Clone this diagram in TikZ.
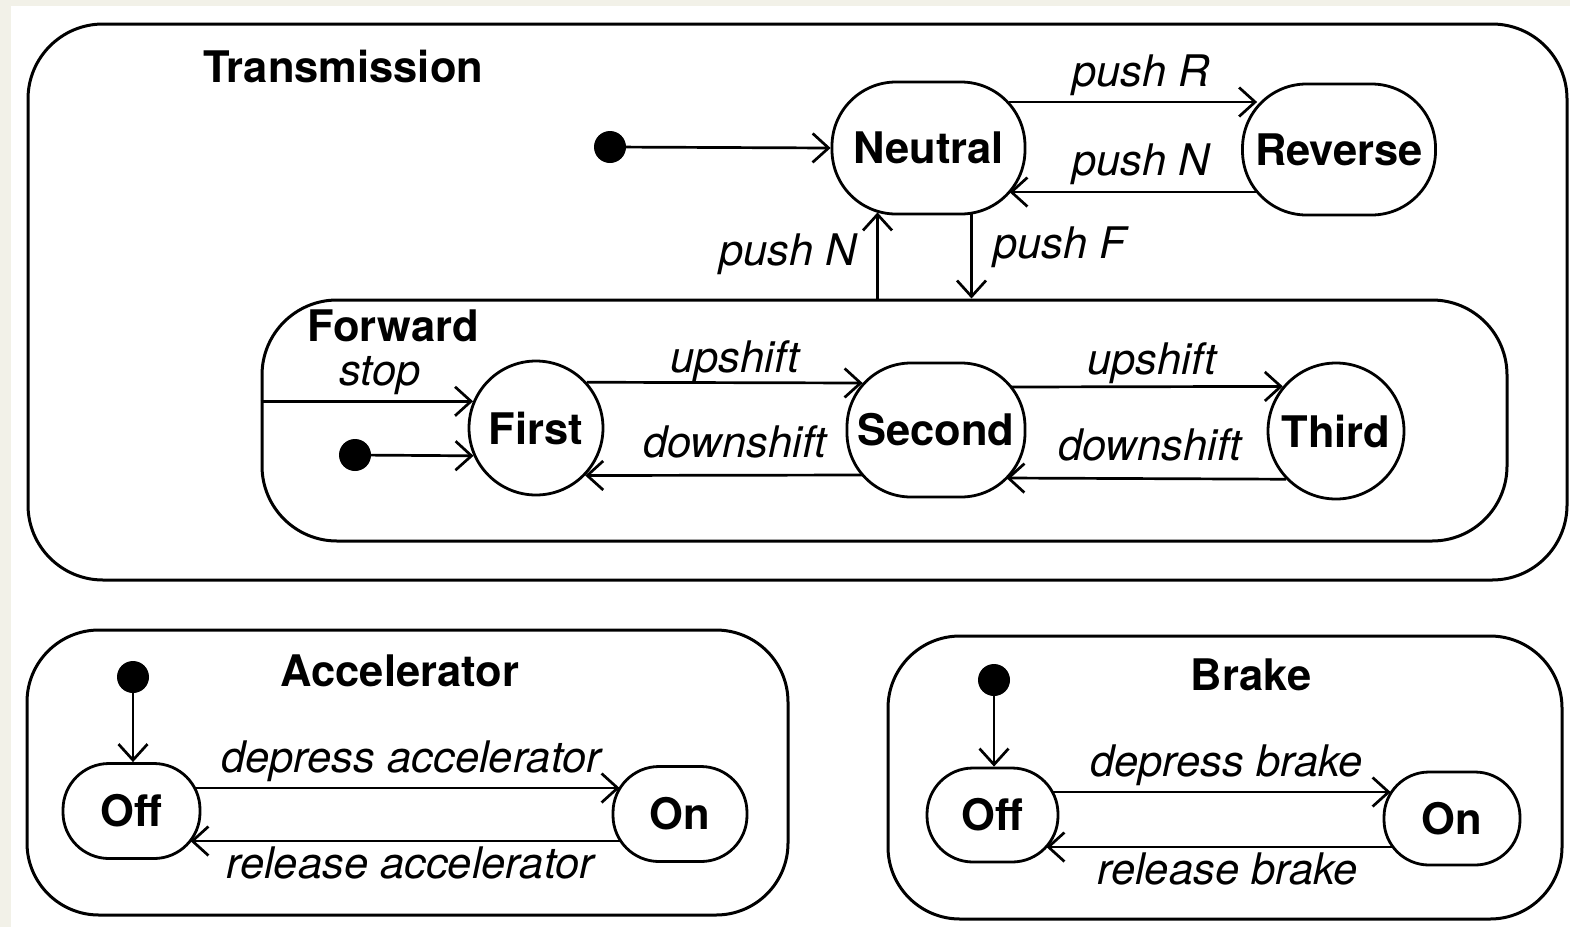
\documentclass[tikz,border=0pt]{standalone}
\usepackage{fontspec}
\setmainfont{TeX Gyre Heros}
\usetikzlibrary{arrows.meta}
\definecolor{bgbeige}{HTML}{F2F1E8}
\newcommand\bfsz{\fontsize{43.5}{50}\selectfont\bfseries}
\newcommand\itsz{\fontsize{43.5}{50}\selectfont\itshape}
\begin{document}
\begin{tikzpicture}[x=1pt,y=-1pt,
  box/.style={draw, line width=3pt, rounded corners=75pt, inner sep=0pt},
  state/.style={draw, line width=2.8pt, inner sep=0pt, font=\bfsz},
  cstate/.style={draw, circle, line width=2.8pt, inner sep=0pt, font=\bfsz},
  initdot/.style={circle, fill=black, minimum size=32pt, inner sep=0pt},
  arr/.style={line width=2.7pt, -{Straight Barb[length=16pt,width=29pt,line width=2.7pt]}},
  lbl/.style={font=\itsz, inner sep=0pt},
  title/.style={font=\bfsz, inner sep=0pt}]
\fill[bgbeige] (0,0) rectangle (1570,927);
\fill[white] (11,6) rectangle (1570,927);
\useasboundingbox (0,0) rectangle (1570,927);

% composite boxes
\node[box, minimum width=1539pt, minimum height=556pt] (trans) at (797.5,302) {};
\node[box, minimum width=1245pt, minimum height=241pt] (forward) at (884.5,420.5) {};
\node[box, rounded corners=72pt, minimum width=761pt, minimum height=285pt] (accel) at (407.5,772.5) {};
\node[box, rounded corners=72pt, minimum width=674pt, minimum height=283pt] (brake) at (1225,777.5) {};

% titles
\node[title, anchor=base west] (ttrans) at (203,82) {Transmission};
\node[title, anchor=base west] (tfwd) at (307,341) {Forward};
\node[title, anchor=base] (tacc) at (400,686) {Accelerator};
\node[title, anchor=base] (tbrk) at (1251,690) {Brake};

% states
\node[state, minimum width=193pt, minimum height=132pt, rounded corners=64pt] (neutral) at (928.5,148) {Neutral};
\node[state, minimum width=193pt, minimum height=131pt, rounded corners=64pt] (reverse) at (1339,149.5) {Reverse};
\node[cstate, minimum size=134pt] (first) at (536,428) {First};
\node[state, minimum width=178pt, minimum height=134pt, rounded corners=64pt] (second) at (936,430) {Second};
\node[cstate, minimum size=136pt] (third) at (1336,431) {Third};
\node[state, minimum width=137pt, minimum height=95pt, rounded corners=46pt] (aoff) at (131.5,811) {Off};
\node[state, minimum width=134pt, minimum height=95pt, rounded corners=46pt] (aon) at (680,814) {On};
\node[state, minimum width=131pt, minimum height=94pt, rounded corners=46pt] (boff) at (992.5,815) {Off};
\node[state, minimum width=136pt, minimum height=93pt, rounded corners=45pt] (bon) at (1452,818.5) {On};

% initial dots
\node[initdot] (i0) at (610,147) {};
\node[initdot] (i1) at (355,455) {};
\node[initdot] (i2) at (133,677) {};
\node[initdot] (i3) at (994,680) {};

% transmission transitions
\draw[arr] (i0) -- (neutral.west);
\draw[arr] ([xshift=-17pt,yshift=46pt]neutral.east) -- ([xshift=16pt,yshift=47.5pt]reverse.west);
\draw[arr] ([xshift=16pt,yshift=-42.5pt]reverse.west) -- ([xshift=-17pt,yshift=-44pt]neutral.east);
\draw[arr] ([xshift=43pt,yshift=2pt]neutral.south) -- ([xshift=43pt]neutral.south |- forward.north);
\draw[arr] ([xshift=-51pt]neutral.south |- forward.north) -- ([xshift=-51pt,yshift=3pt]neutral.south);

% forward transitions
\draw[arr] (forward.west |- first.157) -- (first.157);
\draw[arr] (i1) -- (first.204);
\draw[arr] (first.42) -- ([xshift=17pt,yshift=47pt]second.west);
\draw[arr] ([xshift=17pt,yshift=-45pt]second.west) -- (first.316);
\draw[arr] ([xshift=-16pt,yshift=43pt]second.east) -- (third.140);
\draw[arr] (third.224) -- ([xshift=-20pt,yshift=-48pt]second.east);

% accelerator
\draw[arr] (i2) -- (i2 |- aoff.north);
\draw[arr] ([xshift=-6pt,yshift=23pt]aoff.east) -- ([xshift=8pt,yshift=26pt]aon.west);
\draw[arr] ([xshift=8pt,yshift=-27pt]aon.west) -- ([xshift=-11pt,yshift=-30pt]aoff.east);

% brake
\draw[arr] (i3) -- (i3 |- boff.north);
\draw[arr] ([xshift=-6pt,yshift=23pt]boff.east) -- ([xshift=8pt,yshift=26.5pt]bon.west);
\draw[arr] ([xshift=10pt,yshift=-28.5pt]bon.west) -- ([xshift=-13pt,yshift=-32pt]boff.east);

% labels
\node[lbl, anchor=base] (lpr) at (1141,86) {push R};
\node[lbl, anchor=base] (lpn1) at (1141,175) {push N};
\node[lbl, anchor=base west] (lpf) at (993,258) {push F};
\node[lbl, anchor=base east] (lpn2) at (857,265) {push N};
\node[lbl, anchor=base] (lstop) at (380,385) {stop};
\node[lbl, anchor=base] (lup1) at (735,372) {upshift};
\node[lbl, anchor=base] (ldn1) at (735,457) {downshift};
\node[lbl, anchor=base] (lup2) at (1152,374) {upshift};
\node[lbl, anchor=base] (ldn2) at (1150,460) {downshift};
\node[lbl, anchor=base west] (lda) at (221,772) {depress accelerator};
\node[lbl, anchor=base west] (lra) at (226,878) {release accelerator};
\node[lbl, anchor=base west] (ldb) at (1090,776) {depress brake};
\node[lbl, anchor=base west] (lrb) at (1097,884) {release brake};
\end{tikzpicture}
\end{document}
